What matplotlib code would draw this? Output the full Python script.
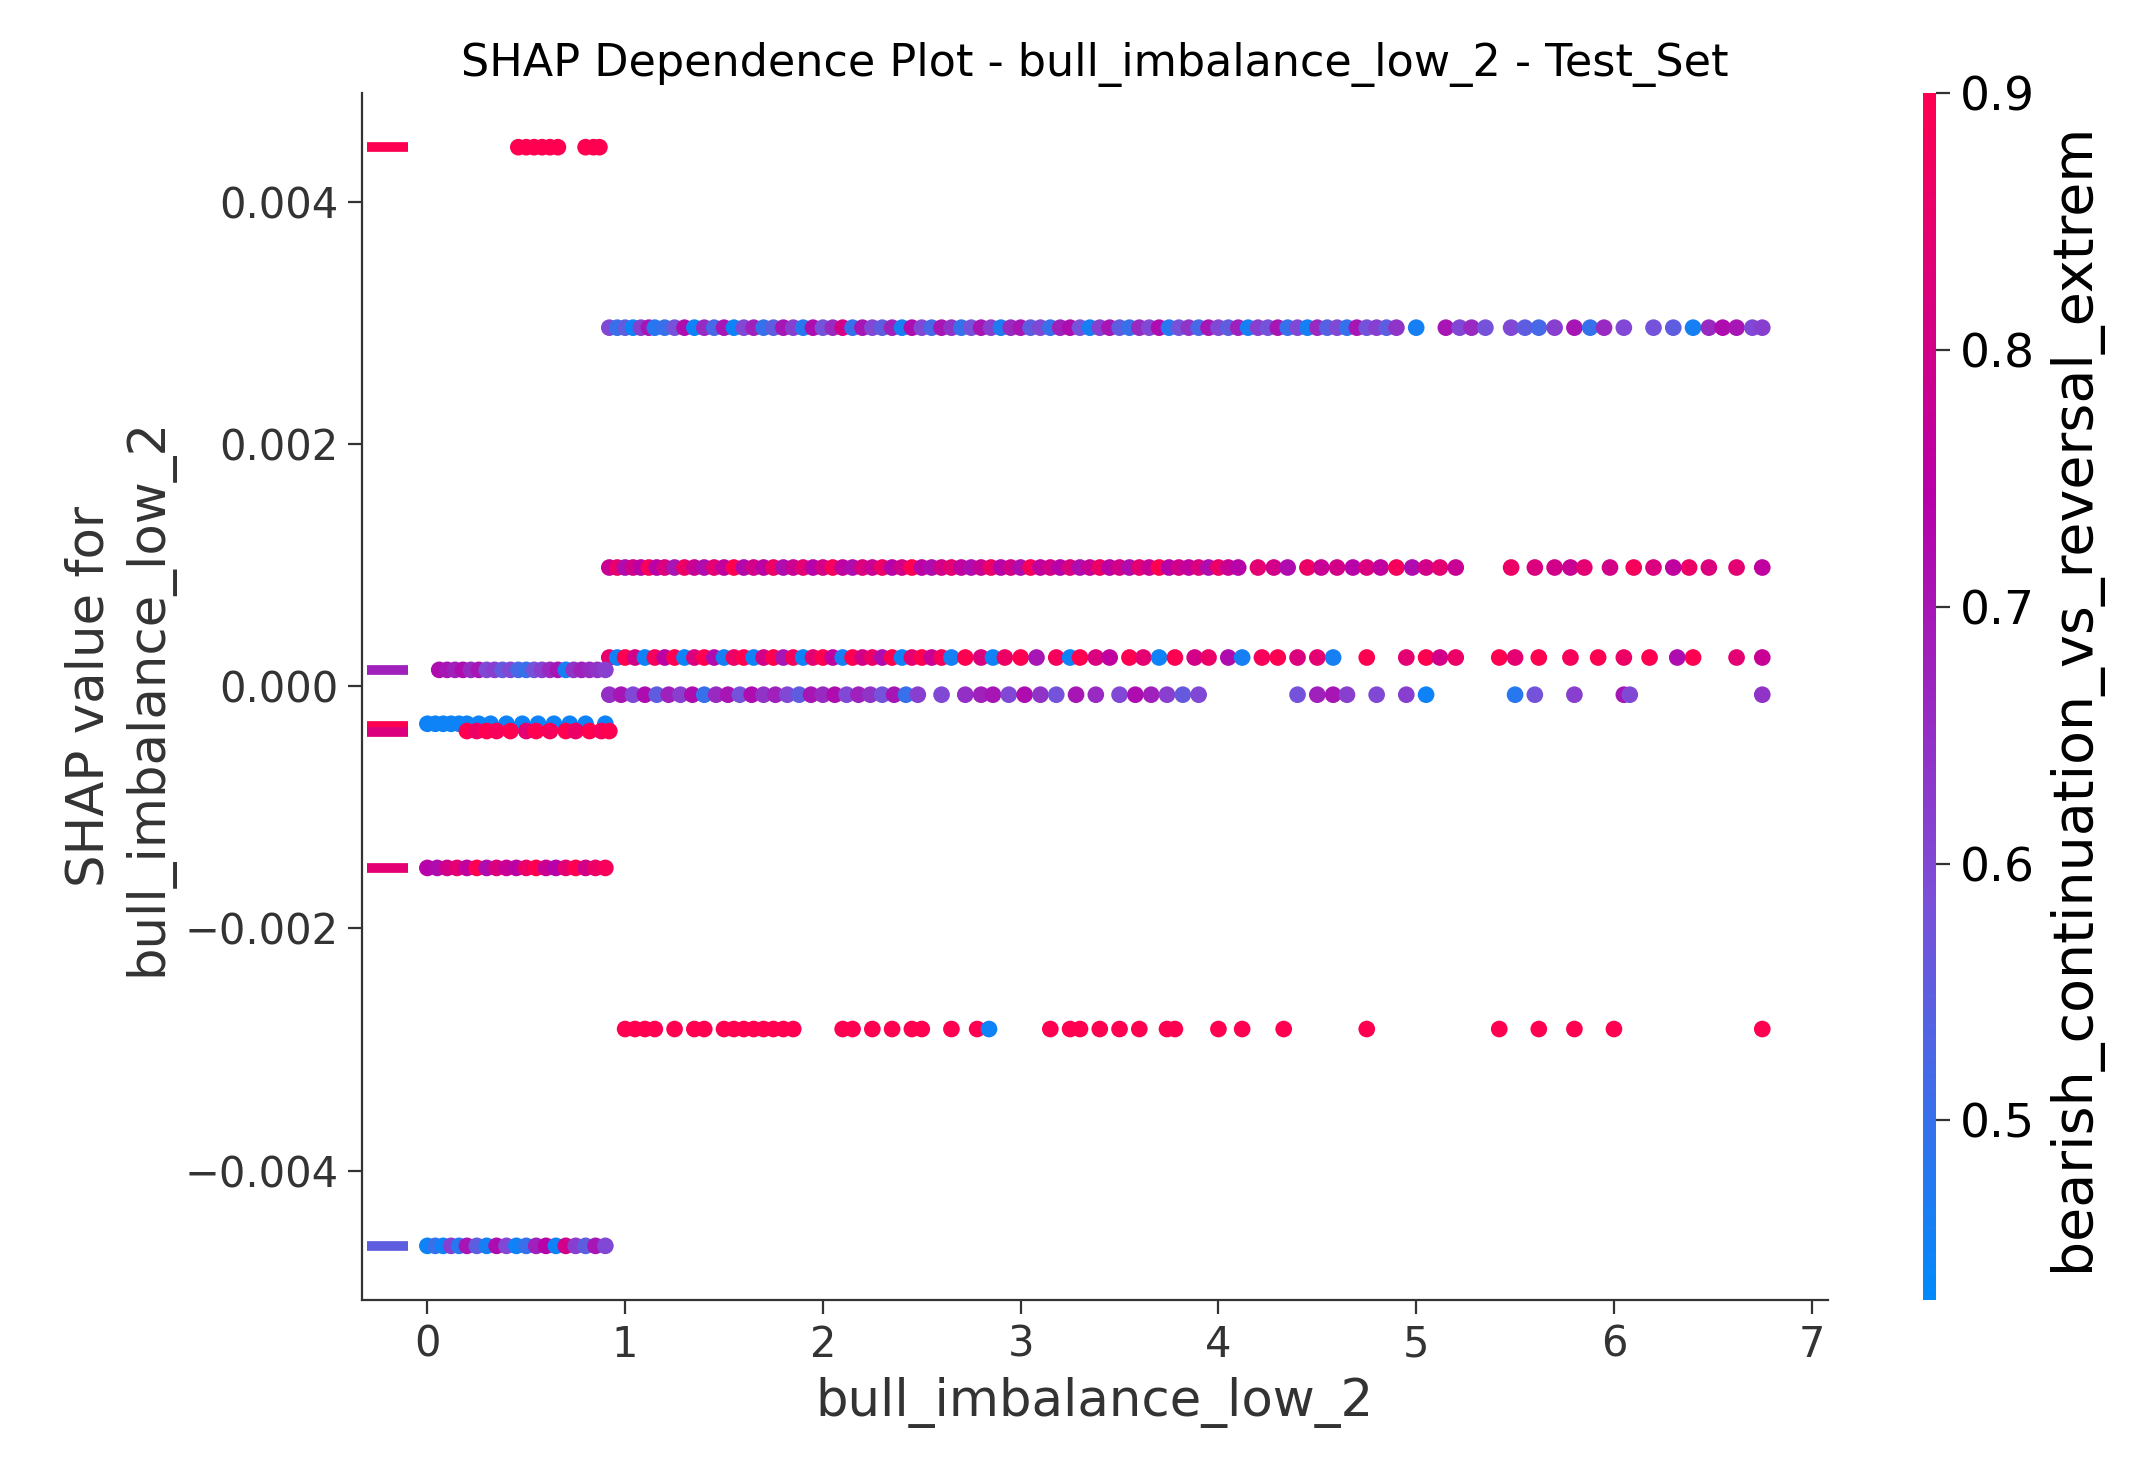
import matplotlib
matplotlib.use("Agg")
from matplotlib import pyplot as plt
from matplotlib.colors import LinearSegmentedColormap

# SHAP value bands: x feature values and colour feature values per band
band_a_y = 0.00296
band_a_x = [0.92, 0.96, 1.0, 1.04, 1.08, 1.12, 1.15, 1.2, 1.25, 1.3, 1.35, 1.4, 1.45, 1.5, 1.55, 1.6,
            1.65, 1.7, 1.75, 1.8, 1.85, 1.9, 1.95, 2.0, 2.05, 2.1, 2.15, 2.2, 2.25, 2.3, 2.35, 2.4,
            2.45, 2.5, 2.55, 2.6, 2.65, 2.7, 2.75, 2.8, 2.85, 2.9, 2.95, 3.0, 3.05, 3.1, 3.15, 3.2,
            3.25, 3.3, 3.35, 3.4, 3.45, 3.5, 3.55, 3.6, 3.65, 3.7, 3.75, 3.8, 3.85, 3.9, 3.95, 4.0,
            4.05, 4.1, 4.15, 4.2, 4.25, 4.3, 4.35, 4.4, 4.45, 4.5, 4.55, 4.6, 4.65, 4.7, 4.75, 4.8,
            4.85, 4.9, 5.0, 5.15, 5.22, 5.28, 5.35, 5.48, 5.55, 5.62, 5.7, 5.8, 5.88, 5.95, 6.05,
            6.2, 6.3, 6.4, 6.48, 6.55, 6.62, 6.7, 6.75]
band_a_c = [0.6, 0.5, 0.55, 0.45, 0.62, 0.7, 0.48, 0.5, 0.58, 0.72, 0.45, 0.66, 0.52, 0.7, 0.45, 0.6,
            0.68, 0.5, 0.55, 0.7, 0.62, 0.48, 0.72, 0.58, 0.66, 0.8, 0.5, 0.7, 0.6, 0.55, 0.68, 0.46,
            0.72, 0.6, 0.52, 0.7, 0.64, 0.5, 0.58, 0.7, 0.62, 0.47, 0.66, 0.7, 0.55, 0.6, 0.5, 0.68,
            0.72, 0.58, 0.46, 0.62, 0.7, 0.55, 0.5, 0.66, 0.6, 0.72, 0.48, 0.58, 0.64, 0.52, 0.7, 0.6,
            0.55, 0.68, 0.46, 0.62, 0.58, 0.7, 0.5, 0.6, 0.46, 0.66, 0.54, 0.6, 0.5, 0.7, 0.58, 0.62,
            0.55, 0.64, 0.46, 0.7, 0.6, 0.66, 0.58, 0.6, 0.55, 0.52, 0.62, 0.7, 0.5, 0.66, 0.6,
            0.58, 0.55, 0.46, 0.66, 0.72, 0.7, 0.6, 0.62]

band_b_y = 0.00098
band_b_x = [0.92, 0.96, 1.0, 1.04, 1.08, 1.12, 1.16, 1.2, 1.25, 1.3, 1.35, 1.4, 1.45, 1.5, 1.55, 1.6,
            1.65, 1.7, 1.75, 1.8, 1.85, 1.9, 1.95, 2.0, 2.05, 2.1, 2.15, 2.2, 2.25, 2.3, 2.35, 2.4,
            2.45, 2.5, 2.55, 2.6, 2.65, 2.7, 2.75, 2.8, 2.85, 2.9, 2.95, 3.0, 3.05, 3.1, 3.15, 3.2,
            3.25, 3.3, 3.35, 3.4, 3.45, 3.5, 3.55, 3.6, 3.65, 3.7, 3.75, 3.8, 3.85, 3.9, 3.95, 4.0,
            4.05, 4.1, 4.2, 4.28, 4.35, 4.45, 4.52, 4.6, 4.68, 4.75, 4.82, 4.9, 4.98, 5.05, 5.12,
            5.2, 5.48, 5.6, 5.7, 5.78, 5.85, 5.98, 6.1, 6.2, 6.3, 6.38, 6.48, 6.62, 6.75]
band_b_c = [0.78, 0.85, 0.72, 0.8, 0.75, 0.88, 0.74, 0.82, 0.7, 0.86, 0.78, 0.72, 0.84, 0.76, 0.9, 0.73,
            0.8, 0.75, 0.86, 0.72, 0.78, 0.84, 0.74, 0.8, 0.88, 0.76, 0.72, 0.82, 0.78, 0.86, 0.74, 0.8,
            0.9, 0.75, 0.72, 0.8, 0.84, 0.76, 0.72, 0.78, 0.86, 0.74, 0.8, 0.72, 0.88, 0.76, 0.8, 0.74,
            0.82, 0.72, 0.78, 0.86, 0.75, 0.8, 0.72, 0.84, 0.78, 0.9, 0.74, 0.8, 0.76, 0.82, 0.72, 0.86,
            0.78, 0.74, 0.84, 0.8, 0.72, 0.86, 0.78, 0.8, 0.74, 0.82, 0.76, 0.88, 0.72, 0.8, 0.84,
            0.78, 0.86, 0.82, 0.8, 0.78, 0.84, 0.8, 0.88, 0.82, 0.76, 0.86, 0.82, 0.84, 0.76]

band_c_y = 0.000237
band_c_x = [0.92, 0.96, 1.0, 1.05, 1.1, 1.15, 1.2, 1.25, 1.3, 1.35, 1.4, 1.45, 1.5, 1.55, 1.6, 1.65,
            1.7, 1.75, 1.8, 1.85, 1.9, 1.95, 2.0, 2.05, 2.1, 2.15, 2.2, 2.25, 2.3, 2.35, 2.4, 2.45,
            2.5, 2.55, 2.6, 2.65, 2.72, 2.8, 2.86, 2.92, 3.0, 3.08, 3.18, 3.25, 3.3, 3.38, 3.45, 3.55,
            3.62, 3.7, 3.78, 3.88, 3.95, 4.05, 4.12, 4.22, 4.3, 4.4, 4.5, 4.58, 4.75, 4.95, 5.05,
            5.12, 5.2, 5.42, 5.5, 5.62, 5.78, 5.92, 6.05, 6.18, 6.32, 6.4, 6.62, 6.75]
band_c_c = [0.85, 0.45, 0.9, 0.8, 0.45, 0.88, 0.75, 0.9, 0.45, 0.82, 0.9, 0.72, 0.46, 0.86, 0.9, 0.45,
            0.8, 0.9, 0.7, 0.88, 0.45, 0.84, 0.9, 0.76, 0.46, 0.9, 0.8, 0.86, 0.72, 0.9, 0.45, 0.84,
            0.9, 0.78, 0.88, 0.46, 0.9, 0.82, 0.45, 0.86, 0.9, 0.7, 0.88, 0.45, 0.9, 0.82, 0.76, 0.9,
            0.84, 0.45, 0.9, 0.8, 0.86, 0.72, 0.46, 0.88, 0.9, 0.82, 0.84, 0.46, 0.9, 0.84, 0.9,
            0.8, 0.86, 0.9, 0.84, 0.9, 0.88, 0.9, 0.86, 0.9, 0.72, 0.9, 0.84, 0.78]

band_d_y = -0.00007
band_d_x = [0.92, 0.98, 1.04, 1.1, 1.16, 1.22, 1.28, 1.34, 1.4, 1.46, 1.52, 1.58, 1.64, 1.7, 1.76, 1.82,
            1.88, 1.94, 2.0, 2.06, 2.12, 2.18, 2.24, 2.3, 2.36, 2.42, 2.48, 2.6, 2.72, 2.8, 2.86,
            2.94, 3.02, 3.1, 3.18, 3.28, 3.38, 3.5, 3.58, 3.66, 3.74, 3.82, 3.9, 4.4, 4.5, 4.58,
            4.65, 4.8, 4.95, 5.05, 5.5, 5.6, 5.8, 6.05, 6.08, 6.75]
band_d_c = [0.65, 0.7, 0.6, 0.72, 0.55, 0.68, 0.62, 0.72, 0.5, 0.66, 0.7, 0.58, 0.72, 0.64, 0.68, 0.6,
            0.55, 0.7, 0.66, 0.72, 0.6, 0.68, 0.64, 0.58, 0.7, 0.5, 0.62, 0.6, 0.65, 0.68, 0.7,
            0.6, 0.72, 0.64, 0.58, 0.7, 0.66, 0.6, 0.72, 0.68, 0.62, 0.56, 0.6, 0.58, 0.68, 0.7,
            0.62, 0.6, 0.62, 0.45, 0.48, 0.58, 0.62, 0.7, 0.6, 0.64]

band_e_y = 0.00445
band_e_x = [0.46, 0.5, 0.54, 0.58, 0.62, 0.66, 0.8, 0.84, 0.87]
band_e_c = [0.9, 0.9, 0.9, 0.9, 0.9, 0.9, 0.9, 0.9, 0.9]

band_f_y = 0.000135
band_f_x = [0.06, 0.1, 0.14, 0.18, 0.22, 0.26, 0.3, 0.34, 0.38, 0.42, 0.46, 0.5, 0.54, 0.58, 0.62,
            0.66, 0.7, 0.74, 0.78, 0.82, 0.86, 0.9]
band_f_c = [0.72, 0.7, 0.68, 0.72, 0.66, 0.7, 0.6, 0.62, 0.56, 0.6, 0.52, 0.5, 0.58, 0.62, 0.66,
            0.7, 0.46, 0.64, 0.68, 0.66, 0.64, 0.62]

band_g_y = -0.00031
band_g_x = [0.0, 0.04, 0.08, 0.12, 0.16, 0.2, 0.26, 0.32, 0.4, 0.48, 0.56, 0.64, 0.72, 0.8, 0.9]
band_g_c = [0.45, 0.45, 0.45, 0.45, 0.45, 0.45, 0.45, 0.45, 0.45, 0.45, 0.45, 0.45, 0.45, 0.45, 0.45]

band_h_y = -0.00037
band_h_x = [0.2, 0.25, 0.3, 0.35, 0.42, 0.5, 0.55, 0.62, 0.7, 0.75, 0.82, 0.88, 0.92]
band_h_c = [0.9, 0.86, 0.9, 0.88, 0.9, 0.84, 0.9, 0.88, 0.9, 0.86, 0.9, 0.88, 0.9]

band_i_y = -0.0015
band_i_x = [0.0, 0.05, 0.1, 0.15, 0.2, 0.25, 0.3, 0.35, 0.4, 0.45, 0.5, 0.55, 0.6, 0.65, 0.7,
            0.75, 0.8, 0.85, 0.9]
band_i_c = [0.74, 0.72, 0.8, 0.84, 0.76, 0.9, 0.72, 0.82, 0.78, 0.75, 0.86, 0.9, 0.78, 0.74, 0.84,
            0.9, 0.8, 0.86, 0.88]

band_j_y = -0.00283
band_j_x = [1.0, 1.05, 1.1, 1.15, 1.25, 1.35, 1.4, 1.5, 1.55, 1.6, 1.65, 1.7, 1.75, 1.8, 1.85, 2.1,
            2.15, 2.25, 2.35, 2.45, 2.5, 2.65, 2.78, 2.84, 3.15, 3.25, 3.3, 3.4, 3.5, 3.6, 3.74,
            3.78, 4.0, 4.12, 4.33, 4.75, 5.42, 5.62, 5.8, 6.0, 6.75]
band_j_c = [0.9, 0.9, 0.9, 0.9, 0.9, 0.9, 0.9, 0.9, 0.9, 0.9, 0.9, 0.9, 0.9, 0.9, 0.9, 0.9,
            0.9, 0.9, 0.9, 0.9, 0.9, 0.9, 0.9, 0.45, 0.9, 0.9, 0.9, 0.9, 0.9, 0.9, 0.9,
            0.9, 0.9, 0.9, 0.9, 0.9, 0.9, 0.9, 0.9, 0.9, 0.9]

band_k_y = -0.00462
band_k_x = [0.0, 0.04, 0.08, 0.12, 0.16, 0.2, 0.25, 0.3, 0.35, 0.4, 0.45, 0.5, 0.55, 0.6, 0.65,
            0.7, 0.75, 0.8, 0.85, 0.9]
band_k_c = [0.45, 0.5, 0.45, 0.62, 0.48, 0.7, 0.55, 0.46, 0.72, 0.6, 0.45, 0.5, 0.68, 0.74, 0.45,
            0.8, 0.62, 0.55, 0.7, 0.6]

# rows with missing feature value, drawn at the left edge
nan_y = [0.00445, 0.000135, -0.00033, -0.00038, -0.0015, -0.00462]
nan_c = [0.9, 0.68, 0.9, 0.82, 0.84, 0.55]

bands = [
    (band_a_y, band_a_x, band_a_c),
    (band_b_y, band_b_x, band_b_c),
    (band_c_y, band_c_x, band_c_c),
    (band_d_y, band_d_x, band_d_c),
    (band_e_y, band_e_x, band_e_c),
    (band_f_y, band_f_x, band_f_c),
    (band_g_y, band_g_x, band_g_c),
    (band_h_y, band_h_x, band_h_c),
    (band_i_y, band_i_x, band_i_c),
    (band_j_y, band_j_x, band_j_c),
    (band_k_y, band_k_x, band_k_c),
]

red_blue = LinearSegmentedColormap.from_list("red_blue", ["#008afb", "#7b4fd8", "#b800a8", "#ff0051"])
vmin, vmax = 0.43, 0.9
axis_color = "#333333"

fig = plt.figure(figsize=(10.65, 7.355), dpi=200)
ax = fig.add_axes([0.17, 0.116, 0.688, 0.821])
cax = fig.add_axes([0.903, 0.116, 0.006, 0.821])

xs, ys, cs = [], [], []
for y, x_vals, c_vals in bands:
    xs += x_vals
    ys += [y] * len(x_vals)
    cs += c_vals
sc = ax.scatter(xs, ys, c=cs, cmap=red_blue, vmin=vmin, vmax=vmax, s=36, linewidths=0)
ax.scatter([-0.2] * len(nan_y), nan_y, c=nan_c, cmap=red_blue, vmin=vmin, vmax=vmax,
           marker="_", s=220, linewidths=3.5)

ax.set_xlim(-0.33, 7.08)
ax.set_ylim(-0.00507, 0.0049)
ax.set_xticks(range(8))
ax.set_yticks([-0.004, -0.002, 0.0, 0.002, 0.004])
ax.set_yticklabels(["\u22120.004", "\u22120.002", "0.000", "0.002", "0.004"])
for side in ("top", "right"):
    ax.spines[side].set_visible(False)
for side in ("left", "bottom"):
    ax.spines[side].set_color(axis_color)
ax.tick_params(colors=axis_color, labelsize=15, length=5)
ax.set_xlabel("bull_imbalance_low_2", fontsize=18.5, color=axis_color)
ax.set_ylabel("SHAP value for\nbull_imbalance_low_2", fontsize=18.5, color=axis_color)
ax.set_title("SHAP Dependence Plot - bull_imbalance_low_2 - Test_Set", fontsize=16)

cb = fig.colorbar(sc, cax=cax)
cb.outline.set_visible(False)
cb.set_ticks([0.5, 0.6, 0.7, 0.8, 0.9])
cb.ax.tick_params(labelsize=17, length=5, colors=axis_color)
for t in cb.ax.get_yticklabels():
    t.set_color("black")
cb.set_label("bearish_continuation_vs_reversal_extrem", fontsize=20)

fig.savefig("out.png", dpi=200)
